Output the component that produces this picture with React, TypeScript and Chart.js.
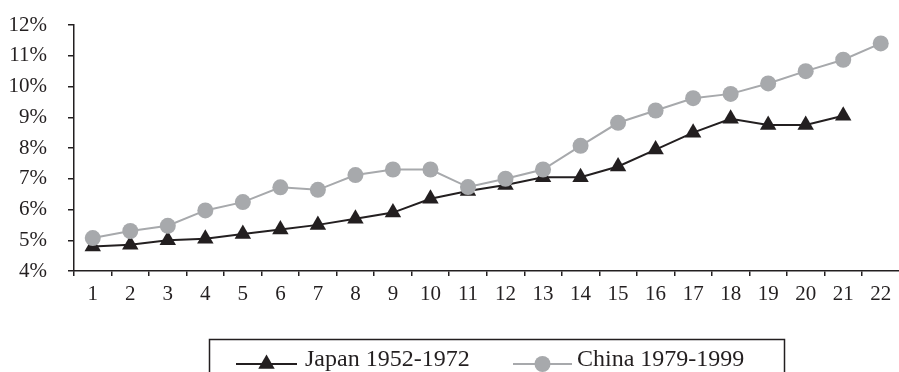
import React, { useEffect, useRef } from "react";
import { Chart, registerables } from "chart.js";

Chart.register(...registerables);

const categories = ["1","2","3","4","5","6","7","8","9","10","11","12","13","14","15","16","17","18","19","20","21","22"];
const japanLabel = "Japan 1952-1972";
const chinaLabel = "China 1979-1999";
const japanValues = [4.8, 4.85, 5.0, 5.05, 5.2, 5.35, 5.5, 5.7, 5.9, 6.35, 6.6, 6.8, 7.05, 7.05, 7.4, 7.95, 8.5, 8.95, 8.75, 8.75, 9.05];
const chinaValues = [5.07, 5.3, 5.47, 5.97, 6.24, 6.72, 6.64, 7.12, 7.3, 7.3, 6.73, 7.0, 7.3, 8.07, 8.82, 9.22, 9.62, 9.76, 10.1, 10.5, 10.87, 11.4];
const yMin = 4;
const yMax = 12;
const yStep = 1;

const BLACK = "#231f20";
const GRAY = "#a7a9ac";
const FONT = "'Liberation Serif', 'Times New Roman', serif";

const boxedLegend = {
  id: "boxedLegend",
  afterDraw(chart: any) {
    const ctx = chart.ctx;
    ctx.save();
    ctx.strokeStyle = BLACK;
    ctx.lineWidth = 1.5;
    ctx.strokeRect(209.5, 339.5, 575, 60);
    const items = [
      { lineX0: 236, lineX1: 297, textX: 305, ds: chart.data.datasets[0] },
      { lineX0: 513, lineX1: 572, textX: 577, ds: chart.data.datasets[1] },
    ];
    const y = 364;
    for (const it of items) {
      const ds = it.ds;
      ctx.strokeStyle = ds.borderColor;
      ctx.lineWidth = ds.borderWidth;
      ctx.beginPath();
      ctx.moveTo(it.lineX0, y);
      ctx.lineTo(it.lineX1, y);
      ctx.stroke();
      ctx.fillStyle = ds.pointBackgroundColor;
      const cx = (it.lineX0 + it.lineX1) / 2;
      const r = ds.pointRadius;
      ctx.beginPath();
      if (ds.pointStyle === "triangle") {
        ctx.moveTo(cx, y - r);
        ctx.lineTo(cx + (r * Math.sqrt(3)) / 2, y + r / 2);
        ctx.lineTo(cx - (r * Math.sqrt(3)) / 2, y + r / 2);
        ctx.closePath();
      } else {
        ctx.arc(cx, y, r, 0, Math.PI * 2);
      }
      ctx.fill();
      ctx.fillStyle = BLACK;
      ctx.font = `24px ${FONT}`;
      ctx.textBaseline = "alphabetic";
      ctx.textAlign = "left";
      ctx.fillText(ds.label, it.textX, 366);
    }
    ctx.restore();
  },
};

export default function App() {
  const ref = useRef<HTMLCanvasElement | null>(null);
  useEffect(() => {
    if (!ref.current) return;
    const chart = new Chart(ref.current, {
      type: "line",
      data: {
        labels: categories,
        datasets: [
          {
            label: japanLabel,
            data: japanValues,
            borderColor: BLACK,
            backgroundColor: BLACK,
            borderWidth: 2,
            pointStyle: "triangle",
            pointRadius: 9.5,
            pointBackgroundColor: BLACK,
            pointBorderColor: BLACK,
            pointBorderWidth: 0,
            tension: 0,
            order: 1,
          },
          {
            label: chinaLabel,
            data: chinaValues,
            borderColor: GRAY,
            backgroundColor: GRAY,
            borderWidth: 2,
            pointStyle: "circle",
            pointRadius: 8,
            pointBackgroundColor: GRAY,
            pointBorderColor: GRAY,
            pointBorderWidth: 0,
            tension: 0,
            order: 0,
          },
        ],
      },
      options: {
        animation: false,
        responsive: false,
        devicePixelRatio: 1,
        layout: { padding: { top: 25, left: 0, right: 0, bottom: 0 } },
        plugins: { legend: { display: false }, tooltip: { enabled: false } },
        events: [],
        scales: {
          x: {
            type: "category",
            offset: true,
            grid: { offset: true, drawOnChartArea: false, drawTicks: true, tickLength: 5, color: BLACK, lineWidth: 1.5 },
            border: { display: true, color: BLACK, width: 1.5 },
            ticks: { color: BLACK, font: { family: FONT, size: 21 }, padding: 6, maxRotation: 0, autoSkip: false },
            afterFit: (s: any) => { s.height = 101; s.paddingLeft = 0; s.paddingRight = 0; },
          },
          y: {
            min: yMin,
            max: yMax,
            grid: { drawOnChartArea: false, drawTicks: true, tickLength: 6, color: BLACK, lineWidth: 1.5 },
            border: { display: true, color: BLACK, width: 1.5 },
            ticks: {
              stepSize: yStep,
              color: BLACK,
              font: { family: FONT, size: 21 },
              padding: 21,
              callback: (v: any) => `${v}%`,
            },
            afterFit: (s: any) => { s.width = 74; s.paddingTop = 0; s.paddingBottom = 0; },
          },
        },
      },
      plugins: [boxedLegend],
    });
    return () => chart.destroy();
  }, []);
  return (
    <div style={{ position: "fixed", left: 0, top: 0, width: 899, height: 372, overflow: "hidden", background: "#fff" }}>
      <canvas ref={ref} width={909} height={372} style={{ width: 909, height: 372, display: "block" }} />
    </div>
  );
}
